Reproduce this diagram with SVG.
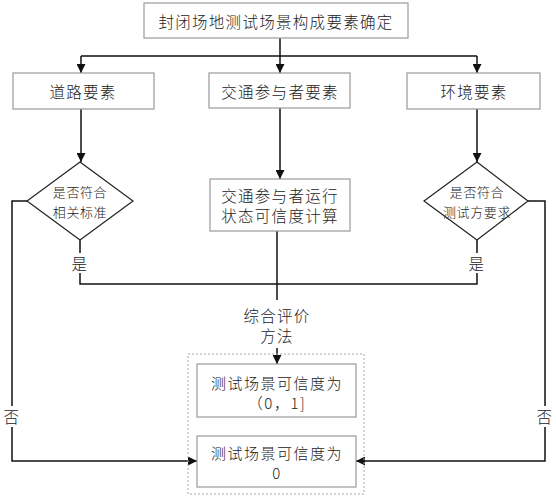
<svg xmlns="http://www.w3.org/2000/svg" width="556" height="500" viewBox="0 0 556 500">
<defs>
<style>
.box{fill:#fff;stroke:#9a9a9a;stroke-width:1.2}
.dia{fill:#fff;stroke:#222;stroke-width:1.2}
.dash{fill:none;stroke:#aaa;stroke-width:1;stroke-dasharray:2,2}
.ln{fill:none;stroke:#111;stroke-width:1.5}
.arr{fill:none;stroke:#111;stroke-width:1.5;marker-end:url(#ah)}
text{font-family:"Noto Sans CJK SC","Noto Sans CJK JP",sans-serif;font-weight:300;fill:#222;text-anchor:middle;dominant-baseline:central}
.t16{font-size:15.5px;letter-spacing:1.3px}
.t15{font-size:15px;letter-spacing:1.5px}
.t14{font-size:13px;letter-spacing:0.6px}
</style>
<marker id="ah" viewBox="0 0 10 10" refX="10" refY="5" markerWidth="9" markerHeight="9" markerUnits="userSpaceOnUse" orient="auto">
<path d="M0,0 L10,5 L0,10 z" fill="#111"/>
</marker>
</defs>
<rect width="556" height="500" fill="#fff"/>
<g id="connectors">
<path class="ln" d="M280,38 V56 M81,56 H477"/>
<path class="arr" d="M81,56 V73"/>
<path class="arr" d="M280,56 V73"/>
<path class="arr" d="M477,56 V73"/>
<path class="arr" d="M81,109 V162"/>
<path class="arr" d="M280,108 V179"/>
<path class="arr" d="M477,109 V162"/>
<path class="ln" d="M80,240 V253 M80,273 V284 H477 V273 M477,253 V240"/>
<path class="ln" d="M277,231 V300"/>
<path class="arr" d="M277,348 V364"/>
<path class="ln" d="M27,201 H12 V406"/>
<path class="arr" d="M12,427 V461 H197"/>
<path class="ln" d="M528,201 H545 V406"/>
<path class="arr" d="M545,427 V461 H356"/>
</g>
<g id="labels">
<text class="t16" x="80" y="263">是</text>
<text class="t16" x="477" y="263">是</text>
<text class="t16" x="277" y="315">综合评价</text>
<text class="t16" x="277" y="335">方法</text>
<text class="t16" x="12" y="416">否</text>
<text class="t16" x="545" y="416">否</text>
</g>
<g id="n_top"><rect class="box" x="144" y="3" width="264" height="35"/><text class="t16" x="276" y="21">封闭场地测试场景构成要素确定</text></g>
<g id="n_road"><rect class="box" x="13" y="73" width="141" height="36"/><text class="t16" x="83" y="91">道路要素</text></g>
<g id="n_traffic"><rect class="box" x="209" y="73" width="141" height="35"/><text class="t16" x="280" y="91">交通参与者要素</text></g>
<g id="n_env"><rect class="box" x="407" y="73" width="133" height="36"/><text class="t16" x="474" y="91">环境要素</text></g>
<g id="d_left"><path class="dia" d="M80,162 L133,201 L80,240 L27,201 z"/><text class="t14" x="80" y="191">是否符合</text><text class="t14" x="80" y="211">相关标准</text></g>
<g id="n_calc"><rect class="box" x="210" y="179" width="140" height="52"/><text class="t16" x="280" y="195">交通参与者运行</text><text class="t16" x="280" y="215">状态可信度计算</text></g>
<g id="d_right"><path class="dia" d="M477,162 L528,201 L477,240 L424,201 z"/><text class="t14" x="477" y="191">是否符合</text><text class="t14" x="477" y="211">测试方要求</text></g>
<g id="g_result"><rect class="dash" x="188" y="354" width="176" height="140"/></g>
<g id="n_r1"><rect class="box" x="197" y="364" width="159" height="53"/><text class="t15" x="277" y="382">测试场景可信度为</text><text class="t15" x="277" y="402">（0，1]</text></g>
<g id="n_r2"><rect class="box" x="197" y="436" width="159" height="51"/><text class="t15" x="277" y="452">测试场景可信度为</text><text class="t15" x="277" y="472">0</text></g>
</svg>
